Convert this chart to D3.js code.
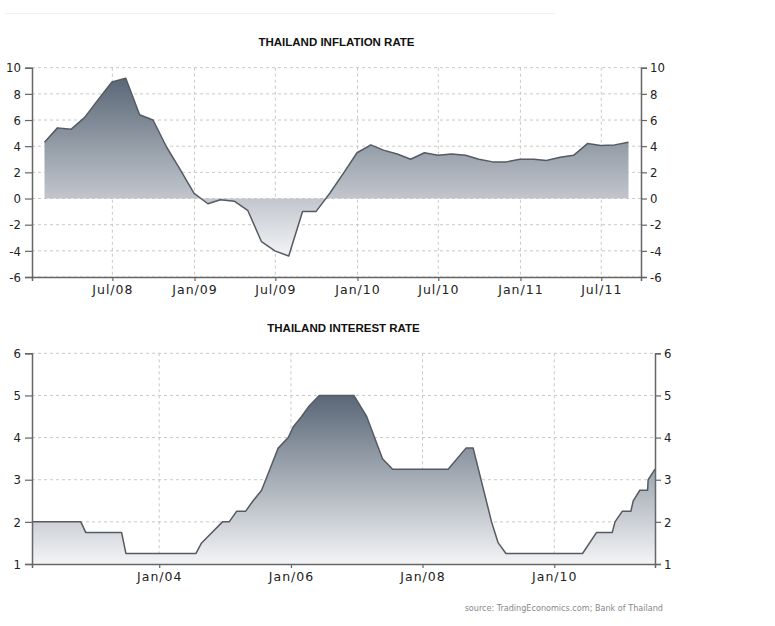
<!DOCTYPE html>
<html>
<head>
<meta charset="utf-8">
<script src="https://cdn.jsdelivr.net/npm/d3@7"></script>
<style>
  html, body { margin: 0; padding: 0; background: #fff; }
  svg { display: block; }
</style>
</head>
<body>
<svg id="chart" width="775" height="626"></svg>
<script>
// ---------- DATA ----------
const inflationMonths = [
  "2008-01","2008-02","2008-03","2008-04","2008-05","2008-06","2008-07","2008-08","2008-09","2008-10","2008-11","2008-12",
  "2009-01","2009-02","2009-03","2009-04","2009-05","2009-06","2009-07","2009-08","2009-09","2009-10","2009-11","2009-12",
  "2010-01","2010-02","2010-03","2010-04","2010-05","2010-06","2010-07","2010-08","2010-09","2010-10","2010-11","2010-12",
  "2011-01","2011-02","2011-03","2011-04","2011-05","2011-06","2011-07","2011-08"
];
const inflationValues = [
  4.3, 5.4, 5.3, 6.2, 7.6, 8.9, 9.2, 6.4, 6.0, 3.9, 2.2, 0.4,
  -0.4, -0.1, -0.2, -0.9, -3.3, -4.0, -4.4, -1.0, -1.0, 0.4, 1.9, 3.5,
  4.1, 3.7, 3.4, 3.0, 3.5, 3.3, 3.4, 3.3, 3.0, 2.8, 2.8, 3.0,
  3.0, 2.9, 3.15, 3.3, 4.2, 4.05, 4.1, 4.3
];
const inflationXTicks = ["2008-07-01","2009-01-01","2009-07-01","2010-01-01","2010-07-01","2011-01-01","2011-07-01"];
const inflationYTicks = [-6, -4, -2, 0, 2, 4, 6, 8, 10];
const inflationDomainDates = ["2008-01-03", "2011-09-28"];

const interestDates = [
  "2002-01-25","2002-10-23","2002-11-19","2003-06-06","2003-06-30","2004-07-23","2004-08-23",
  "2004-12-17","2005-01-23","2005-03-05","2005-04-24","2005-06-05","2005-07-22","2005-09-06",
  "2005-10-22","2005-12-17","2006-01-13","2006-03-01","2006-04-12","2006-06-07","2006-12-16",
  "2007-02-25","2007-05-24","2007-07-19","2008-05-22","2008-08-29","2008-10-08","2009-01-18",
  "2009-02-24","2009-04-08","2010-06-07","2010-08-24","2010-11-19","2010-12-04","2011-01-13",
  "2011-03-02","2011-03-15","2011-04-21","2011-06-03","2011-06-06","2011-07-14"
];
const interestValues = [
  2.0, 2.0, 1.75, 1.75, 1.25, 1.25, 1.5,
  2.0, 2.0, 2.25, 2.25, 2.5, 2.75, 3.25,
  3.75, 4.0, 4.25, 4.5, 4.75, 5.0, 5.0,
  4.5, 3.5, 3.25, 3.25, 3.75, 3.75, 2.0,
  1.5, 1.25, 1.25, 1.75, 1.75, 2.0, 2.25,
  2.25, 2.5, 2.75, 2.75, 3.0, 3.25
];
const interestXTicks = ["2004-01-01","2006-01-01","2008-01-01","2010-01-01"];
const interestYTicks = [1, 2, 3, 4, 5, 6];

const titles = ["THAILAND INFLATION RATE", "THAILAND INTEREST RATE"];
const sourceText = "source: TradingEconomics.com; Bank of Thailand";

// ---------- DRAW ----------
const parse = d3.utcParse("%Y-%m-%d");
const parseMonth = d3.utcParse("%Y-%m");
const fmt = d3.utcFormat("%b/%y");
const svg = d3.select("#chart");
const FONT_C = "'DejaVu Sans Condensed', 'DejaVu Sans', sans-serif";
const FONT = "'DejaVu Sans', sans-serif";

// faint top rule
svg.append("line").attr("x1", 5).attr("x2", 555).attr("y1", 13.5).attr("y2", 13.5)
  .attr("stroke", "#f0f0f0").attr("stroke-width", 1);

const defs = svg.append("defs");
const grad = defs.append("linearGradient").attr("id", "areaGrad")
  .attr("x1", 0).attr("y1", 0).attr("x2", 0).attr("y2", 1);
grad.append("stop").attr("offset", "0%").attr("stop-color", "#5a6777");
grad.append("stop").attr("offset", "100%").attr("stop-color", "#f3f4f6");

function panel(opts) {
  const { left, right, top, bottom, xDomain, yDomain, xTicks, yTicks, dates, values, base, title, titleY } = opts;
  const x = d3.scaleUtc().domain(xDomain).range([left, right]);
  const y = d3.scaleLinear().domain(yDomain).range([bottom, top]);
  const g = svg.append("g");

  // grid
  g.append("g").selectAll("line").data(yTicks).join("line")
    .attr("x1", left).attr("x2", right)
    .attr("y1", d => y(d)).attr("y2", d => y(d))
    .attr("stroke", "#c8c8c8").attr("stroke-dasharray", "3,3").attr("stroke-width", 1);
  g.append("g").selectAll("line").data(xTicks).join("line")
    .attr("x1", d => x(d)).attr("x2", d => x(d))
    .attr("y1", top).attr("y2", bottom)
    .attr("stroke", "#c8c8c8").attr("stroke-dasharray", "3,3").attr("stroke-width", 1);

  const pts = dates.map((d, i) => ({ d, v: values[i] }));
  const area = d3.area().x(p => x(p.d)).y0(y(base)).y1(p => y(p.v));
  const line = d3.line().x(p => x(p.d)).y(p => y(p.v));
  g.append("path").datum(pts).attr("d", area).attr("fill", "url(#areaGrad)");
  g.append("path").datum(pts).attr("d", line).attr("fill", "none")
    .attr("stroke", "#555b62").attr("stroke-width", 1.5).attr("stroke-linejoin", "round");

  // axes
  const yfmt = d => String(d);
  const axL = d3.axisLeft(y).tickValues(yTicks).tickSize(7).tickPadding(4).tickFormat(yfmt);
  const axR = d3.axisRight(y).tickValues(yTicks).tickSize(6).tickPadding(3).tickFormat(yfmt);
  const axB = d3.axisBottom(x).tickValues(xTicks).tickSize(4).tickPadding(4).tickFormat(fmt);
  [[axL, `translate(${left},0)`, false], [axR, `translate(${right},0)`, false], [axB, `translate(0,${bottom})`, true]].forEach(([ax, tr, isX]) => {
    const a = g.append("g").attr("transform", tr).call(ax);
    a.select(".domain").attr("stroke", "#666").attr("stroke-width", 1.5);
    a.selectAll(".tick line").attr("stroke", "#666").attr("stroke-width", 1.2);
    const t = a.selectAll(".tick text").attr("fill", "#222");
    if (isX) {
      t.attr("font-family", FONT).attr("font-size", 12.5).attr("letter-spacing", "1px");
    } else {
      t.attr("font-family", FONT_C).attr("font-size", 13);
    }
  });

  svg.append("text").attr("x", (left + right) / 2).attr("y", titleY)
    .attr("text-anchor", "middle").attr("font-family", "'Liberation Sans', Arial, sans-serif")
    .attr("font-weight", "bold").attr("font-size", 11.5).attr("fill", "#111").text(title);
}

panel({
  left: 32, right: 641, top: 67.7, bottom: 277,
  xDomain: inflationDomainDates.map(parse), yDomain: [-6, 10],
  xTicks: inflationXTicks.map(parse), yTicks: inflationYTicks,
  dates: inflationMonths.map(m => d3.utcDay.offset(d3.utcMonth.offset(parseMonth(m), 1), -1)),
  values: inflationValues, base: 0, title: titles[0], titleY: 46
});

panel({
  left: 32, right: 655, top: 353.3, bottom: 564,
  xDomain: [parse(interestDates[0]), parse(interestDates[interestDates.length - 1])], yDomain: [1, 6],
  xTicks: interestXTicks.map(parse), yTicks: interestYTicks,
  dates: interestDates.map(parse), values: interestValues, base: 1, title: titles[1], titleY: 331.5
});

svg.append("text").attr("x", 663).attr("y", 611).attr("text-anchor", "end")
  .attr("font-family", FONT_C).attr("font-size", 9).attr("fill", "#888").text(sourceText);
</script>
</body>
</html>
